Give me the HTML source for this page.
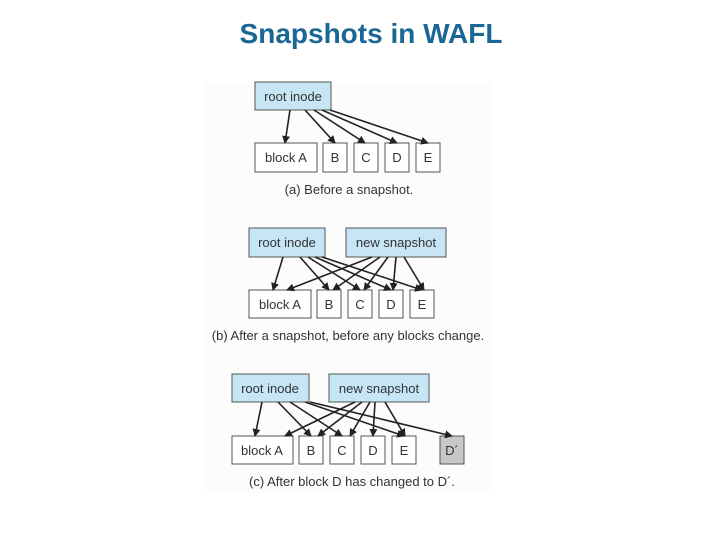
<!DOCTYPE html>
<html><head><style>
body{margin:0;width:720px;height:540px;background:#fff;overflow:hidden;font-family:"Liberation Sans",sans-serif}
.t{position:absolute;left:0;width:742px;top:18px;text-align:center;font-size:28px;font-weight:bold;color:#1a6796}
</style></head><body>
<div class="t">Snapshots in WAFL</div>
<svg width="720" height="540" style="position:absolute;left:0;top:0" font-family="Liberation Sans,sans-serif" font-size="13" fill="#333">
<defs><marker id="a" markerWidth="8" markerHeight="8" refX="7" refY="4" orient="auto" markerUnits="userSpaceOnUse"><path d="M0,0 L8,4 L0,8z" fill="#222"/></marker></defs>
<rect x="203" y="82" width="290" height="410" fill="#fcfcfc"/>
<g stroke="#555" stroke-width="1">
<rect x="255" y="82" width="76" height="28" fill="#c6e6f6"/>
<rect x="255" y="143" width="62" height="29" fill="#fff"/><rect x="323" y="143" width="24" height="29" fill="#fff"/><rect x="354" y="143" width="24" height="29" fill="#fff"/><rect x="385" y="143" width="24" height="29" fill="#fff"/><rect x="416" y="143" width="24" height="29" fill="#fff"/>
<rect x="249" y="228" width="76" height="29" fill="#c6e6f6"/><rect x="346" y="228" width="100" height="29" fill="#c6e6f6"/>
<rect x="249" y="290" width="62" height="28" fill="#fff"/><rect x="317" y="290" width="24" height="28" fill="#fff"/><rect x="348" y="290" width="24" height="28" fill="#fff"/><rect x="379" y="290" width="24" height="28" fill="#fff"/><rect x="410" y="290" width="24" height="28" fill="#fff"/>
<rect x="232" y="374" width="77" height="28" fill="#c6e6f6"/><rect x="329" y="374" width="100" height="28" fill="#c6e6f6"/>
<rect x="232" y="436" width="61" height="28" fill="#fff"/><rect x="299" y="436" width="24" height="28" fill="#fff"/><rect x="330" y="436" width="24" height="28" fill="#fff"/><rect x="361" y="436" width="24" height="28" fill="#fff"/><rect x="392" y="436" width="24" height="28" fill="#fff"/><rect x="440" y="436" width="24" height="28" fill="#c8c8c8"/>
</g>
<g stroke="#222" stroke-width="1.6" marker-end="url(#a)">
<line x1="290" y1="110" x2="285" y2="143"/><line x1="305" y1="110" x2="335" y2="143"/><line x1="314" y1="110" x2="365" y2="143"/><line x1="322" y1="110" x2="397" y2="143"/><line x1="330" y1="110" x2="428" y2="143"/>
<line x1="283" y1="257" x2="273" y2="290"/><line x1="300" y1="257" x2="329" y2="290"/><line x1="308" y1="257" x2="360" y2="290"/><line x1="315" y1="257" x2="391" y2="290"/><line x1="322" y1="257" x2="422" y2="290"/>
<line x1="372" y1="257" x2="287" y2="290"/><line x1="380" y1="257" x2="333" y2="290"/><line x1="388" y1="257" x2="364" y2="290"/><line x1="396" y1="257" x2="393" y2="290"/><line x1="404" y1="257" x2="424" y2="290"/>
<line x1="262" y1="402" x2="255" y2="436"/><line x1="278" y1="402" x2="311" y2="436"/><line x1="290" y1="402" x2="342" y2="436"/><line x1="305" y1="402" x2="404" y2="436"/><line x1="310" y1="402" x2="452" y2="436"/>
<line x1="355" y1="402" x2="285" y2="436"/><line x1="362" y1="402" x2="318" y2="436"/><line x1="370" y1="402" x2="350" y2="436"/><line x1="375" y1="402" x2="373" y2="436"/><line x1="385" y1="402" x2="405" y2="436"/>
</g>
<g text-anchor="middle">
<text x="293" y="101">root inode</text>
<text x="286" y="162">block A</text><text x="335" y="162">B</text><text x="366" y="162">C</text><text x="397" y="162">D</text><text x="428" y="162">E</text>
<text x="349" y="194">(a) Before a snapshot.</text>
<text x="287" y="247">root inode</text><text x="396" y="247">new snapshot</text>
<text x="280" y="309">block A</text><text x="329" y="309">B</text><text x="360" y="309">C</text><text x="391" y="309">D</text><text x="422" y="309">E</text>
<text x="348" y="340">(b) After a snapshot, before any blocks change.</text>
<text x="270" y="393">root inode</text><text x="379" y="393">new snapshot</text>
<text x="262" y="455">block A</text><text x="311" y="455">B</text><text x="342" y="455">C</text><text x="373" y="455">D</text><text x="404" y="455">E</text><text x="452" y="455">D´</text>
<text x="352" y="486">(c) After block D has changed to D´.</text>
</g>
</svg>
</body></html>
